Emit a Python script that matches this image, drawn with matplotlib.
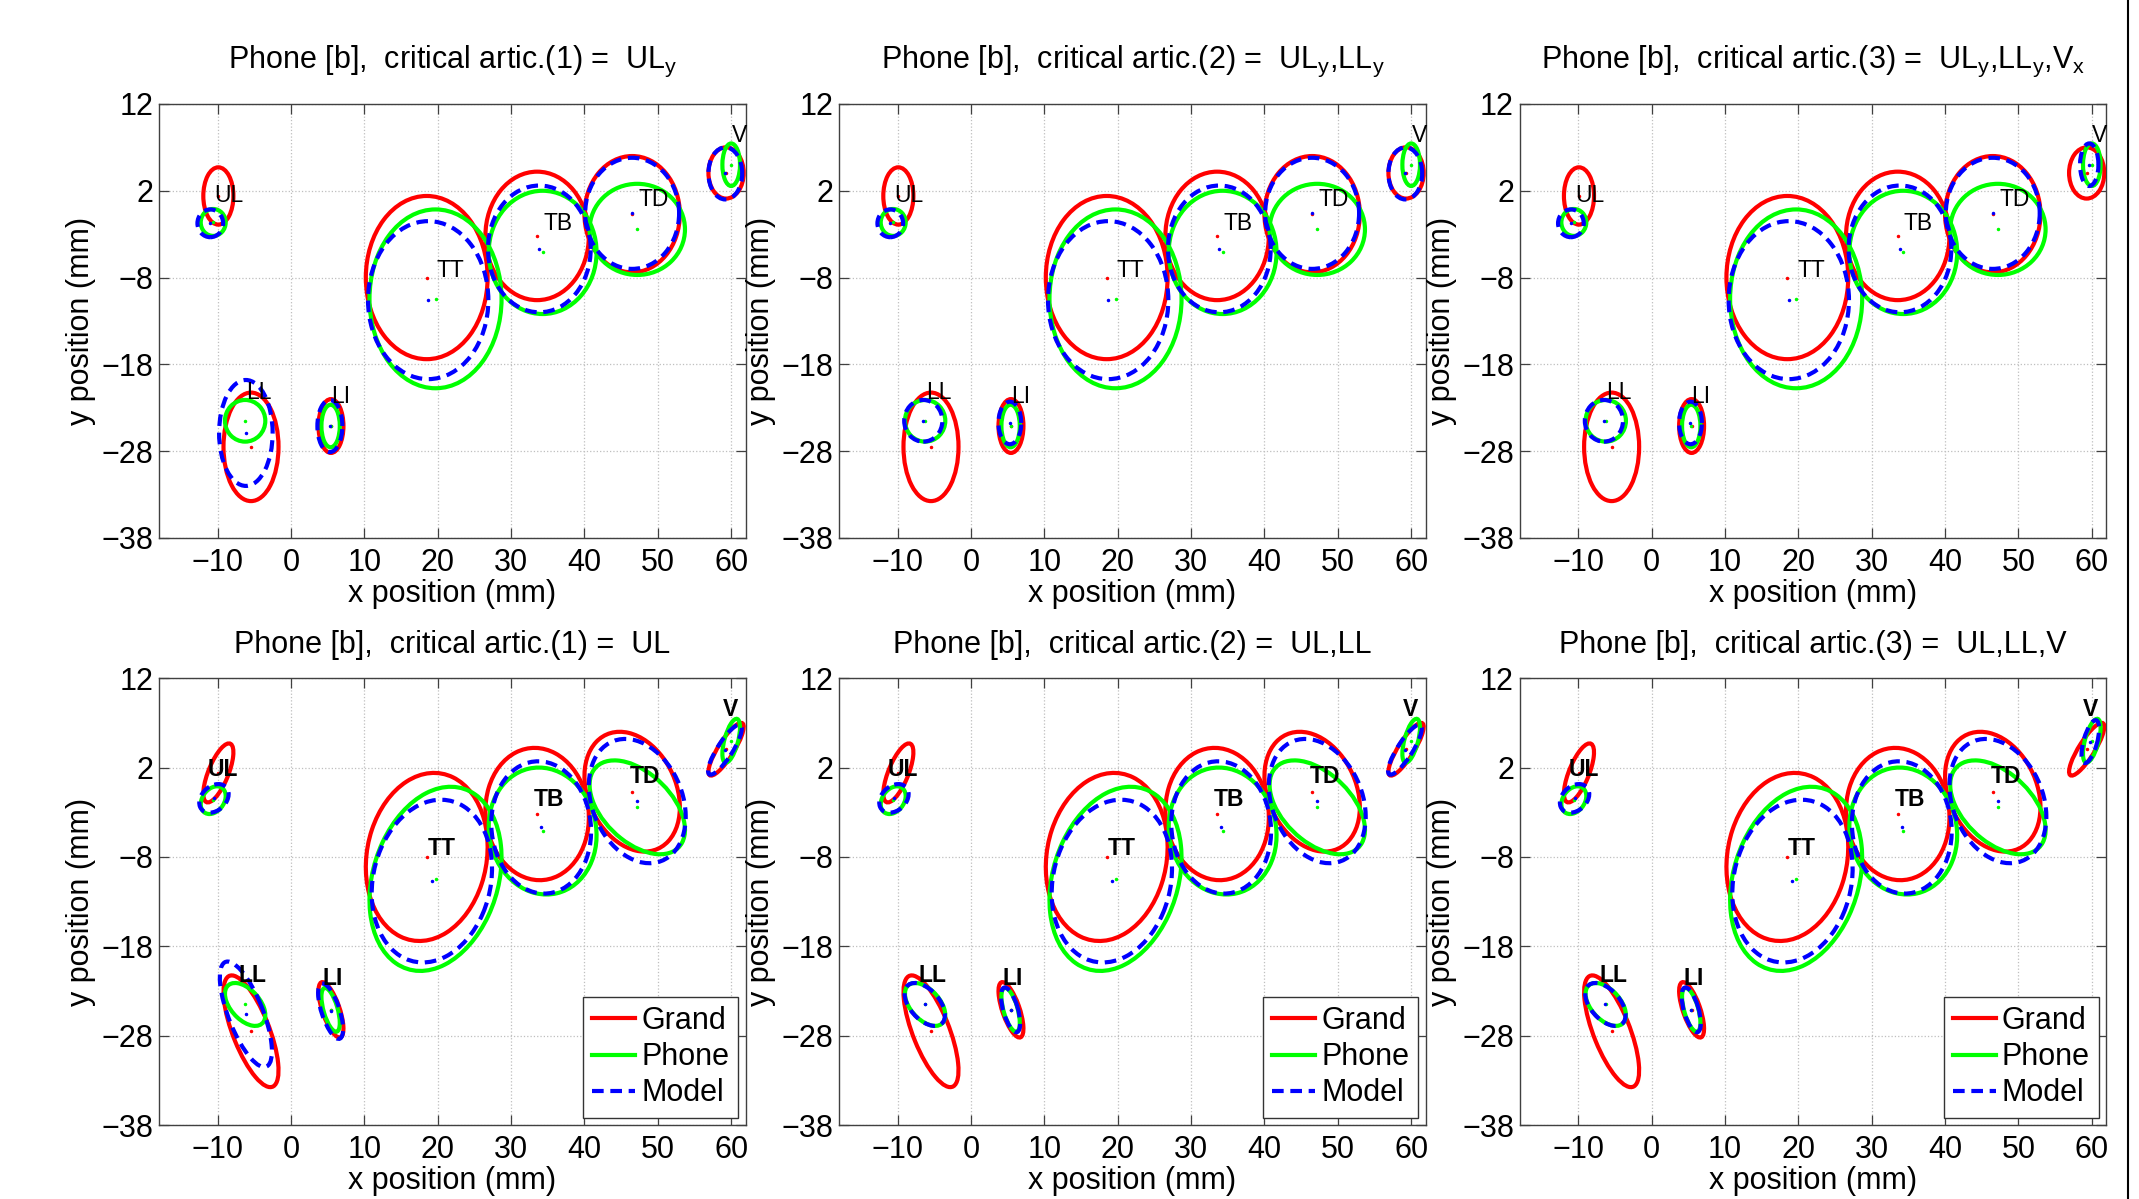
import numpy as np
import matplotlib
matplotlib.use("Agg")
import matplotlib.pyplot as plt
from matplotlib.patches import Ellipse
from matplotlib.lines import Line2D

plt.rcParams['font.family'] = ['Liberation Sans', 'DejaVu Sans']
plt.rcParams['mathtext.default'] = 'regular'

artic = ["UL", "LL", "LI", "TT", "TB", "TD", "V"]

# grand mean / spread (red), same in every panel
grand_x = [-9.9, -5.45, 5.45, 18.5, 33.55, 46.5, 59.3]
grand_y = [1.4, -27.5, -25.1, -8.0, -3.2, -0.7, 4.05]
grand_hx = [2.05, 3.75, 1.7, 8.3, 7.05, 6.5, 2.4]
grand_hy = [3.3, 6.25, 3.1, 9.4, 7.4, 6.7, 2.95]
grand_r = [0.7, -0.7, -0.68, 0.12, -0.05, -0.26, 0.85]

# phone [b] (green)
phone_x = [-10.6, -6.25, 5.4, 19.7, 34.3, 47.2, 60.0]
phone_y = [-1.65, -24.5, -25.1, -10.45, -5.1, -2.45, 5.0]
phone_hx = [1.7, 2.75, 1.25, 9.0, 7.35, 6.5, 1.2]
phone_hy = [1.55, 2.4, 2.45, 10.3, 7.1, 5.25, 2.45]
phone_r = [0.3, -0.5, -0.6, 0.23, -0.07, -0.48, 0.6]

# model (blue), top row = diagonal covariance, one list per panel
model_top_x = [[-11.0, -6.15, 5.3, 18.7, 33.85, 46.5, 59.2],
               [-11.0, -6.5, 5.3, 18.7, 33.85, 46.5, 59.2],
               [-11.0, -6.5, 5.3, 18.7, 33.85, 46.5, 59.65]]
model_top_y = [[-1.75, -25.9, -25.1, -10.6, -4.7, -0.6, 4.0],
               [-1.75, -24.5, -24.75, -10.6, -4.7, -0.6, 4.0],
               [-1.75, -24.5, -24.75, -10.6, -4.7, -0.6, 5.0]]
model_top_hx = [[1.75, 3.65, 1.7, 8.2, 7.0, 6.4, 2.3],
                [1.75, 2.6, 1.55, 8.2, 7.0, 6.4, 2.3],
                [1.75, 2.6, 1.55, 8.2, 7.0, 6.4, 1.25]]
model_top_hy = [[1.6, 6.1, 3.0, 9.1, 7.3, 6.4, 3.0],
                [1.6, 2.4, 2.45, 9.1, 7.3, 6.4, 3.0],
                [1.6, 2.4, 2.45, 9.1, 7.3, 6.4, 2.45]]

# model (blue), bottom row = full covariance
model_bot_x = [[-10.5, -6.15, 5.4, 19.2, 34.1, 47.2, 59.15],
               [-10.5, -6.3, 5.4, 19.2, 34.1, 47.2, 59.15],
               [-10.5, -6.3, 5.4, 19.2, 34.1, 47.2, 59.8]]
model_bot_y = [[-1.45, -25.6, -25.25, -10.7, -4.7, -1.75, 4.0],
               [-1.45, -24.5, -25.1, -10.7, -4.7, -1.75, 4.0],
               [-1.45, -24.5, -25.1, -10.7, -4.7, -1.75, 4.9]]
model_bot_hx = [[2.0, 3.55, 1.7, 8.2, 6.8, 6.6, 2.3],
                [2.0, 2.75, 1.3, 8.2, 6.8, 6.6, 2.3],
                [2.0, 2.75, 1.3, 8.2, 6.8, 6.6, 1.2]]
model_bot_hy = [[1.6, 5.9, 3.1, 9.1, 7.4, 6.95, 2.8],
                [1.6, 2.4, 2.5, 9.1, 7.4, 6.95, 2.8],
                [1.6, 2.4, 2.5, 9.1, 7.4, 6.95, 2.4]]
model_bot_r = [[0.3, -0.7, -0.65, 0.15, -0.06, -0.25, 0.85],
               [0.3, -0.5, -0.6, 0.15, -0.06, -0.25, 0.85],
               [0.3, -0.5, -0.6, 0.15, -0.06, -0.25, 0.6]]

# articulator name positions
lab_top_x = [-10.46, -6.16, 5.43, 19.87, 34.4, 47.35, 60.07]
lab_top_y = [1.5, -21.2, -21.67, -7.2, -1.81, 0.97, 8.34]
lab_bot_x = [-11.35, -7.15, 4.35, 18.6, 33.1, 46.2, 58.8]
lab_bot_y = [1.73, -21.3, -21.65, -7.05, -1.6, 1.05, 8.45]

titles_top = ['Phone [b],  critical artic.(1) =  UL$_y$',
              'Phone [b],  critical artic.(2) =  UL$_y$,LL$_y$',
              'Phone [b],  critical artic.(3) =  UL$_y$,LL$_y$,V$_x$']
titles_bot = ['Phone [b],  critical artic.(1) =  UL',
              'Phone [b],  critical artic.(2) =  UL,LL',
              'Phone [b],  critical artic.(3) =  UL,LL,V']

RED, GREEN, BLUE = (1, 0, 0), (0, 1, 0), (0, 0, 1)
LW = 3.0
DASH = (0, (2.8, 1.6))


def ell(ax, cx, cy, hx, hy, r, **kw):
    c = np.array([[hx * hx, r * hx * hy], [r * hx * hy, hy * hy]])
    vals, vecs = np.linalg.eigh(c)
    ang = np.degrees(np.arctan2(vecs[1, 1], vecs[0, 1]))
    e = Ellipse((cx, cy), 2 * np.sqrt(vals[1]), 2 * np.sqrt(vals[0]),
                angle=ang, fill=False, **kw)
    ax.add_patch(e)


fig = plt.figure(figsize=(21.39, 11.99), dpi=100)
lefts = [0.0743, 0.3922, 0.7104]
W = 0.2744

for row in range(2):
    for col in range(3):
        if row == 0:
            ax = fig.add_axes([lefts[col], 0.5513, W, 0.362])
        else:
            ax = fig.add_axes([lefts[col], 0.0616, W, 0.3728])
        for i in range(len(artic)):
            gr = grand_r[i] if row == 1 else 0
            pr = phone_r[i] if row == 1 else 0
            ell(ax, grand_x[i], grand_y[i], grand_hx[i], grand_hy[i], gr,
                color=RED, lw=LW, zorder=3)
            ell(ax, phone_x[i], phone_y[i], phone_hx[i], phone_hy[i], pr,
                color=GREEN, lw=LW, zorder=4)
        if row == 0:
            mx, my = model_top_x[col], model_top_y[col]
            mhx, mhy = model_top_hx[col], model_top_hy[col]
            mr = [0] * len(artic)
        else:
            mx, my = model_bot_x[col], model_bot_y[col]
            mhx, mhy = model_bot_hx[col], model_bot_hy[col]
            mr = model_bot_r[col]
        for i in range(len(artic)):
            ell(ax, mx[i], my[i], mhx[i], mhy[i], mr[i],
                color=BLUE, lw=LW, linestyle=DASH, zorder=5)
        ax.plot(grand_x, grand_y, '.', color=RED, ms=3, zorder=6)
        ax.plot(phone_x, phone_y, '.', color=GREEN, ms=3, zorder=6)
        ax.plot(mx, my, '.', color=BLUE, ms=3, zorder=6)

        lx = lab_top_x if row == 0 else lab_bot_x
        ly = lab_top_y if row == 0 else lab_bot_y
        for i, name in enumerate(artic):
            ax.text(lx[i], ly[i], name, fontsize=16.5, ha='left', va='center',
                    fontweight='bold' if row == 1 else 'normal', zorder=7)

        ax.set_xlim(-18, 62)
        ax.set_ylim(-38, 12)
        ax.set_xticks(range(-10, 61, 10))
        ax.set_yticks(range(-38, 13, 10))
        ax.grid(True, linestyle=':', color='0.75', lw=0.9)
        ax.set_axisbelow(True)
        ax.tick_params(direction='in', top=True, right=True, labelsize=22,
                       length=7, width=0.9, color='0.25')
        ax.tick_params(axis='x', pad=7)
        ax.tick_params(axis='y', pad=4)
        for s in ax.spines.values():
            s.set_color('0.25')
            s.set_linewidth(1.0)
        ax.set_xlabel('x position (mm)', fontsize=22, labelpad=1)
        ax.set_ylabel('y position (mm)', fontsize=22, labelpad=4)
        ax.set_title(titles_top[col] if row == 0 else titles_bot[col],
                     fontsize=22, pad=26 if row == 0 else 18)

        if row == 1:
            handles = [Line2D([], [], color=RED, lw=LW),
                       Line2D([], [], color=GREEN, lw=LW),
                       Line2D([], [], color=BLUE, lw=LW, linestyle=DASH)]
            leg = ax.legend(handles, ['Grand', 'Phone', 'Model'],
                            loc='lower right', fontsize=22, fancybox=False,
                            framealpha=1, edgecolor='0.2', borderpad=0.3,
                            labelspacing=0.2, handlelength=1.4,
                            handletextpad=0.2, borderaxespad=0.25)
            leg.get_frame().set_linewidth(1.0)

fig.add_artist(Line2D([0.995, 0.995], [0, 1], color='black', lw=1.5,
                      transform=fig.transFigure))

fig.savefig('out.png', dpi=100)
